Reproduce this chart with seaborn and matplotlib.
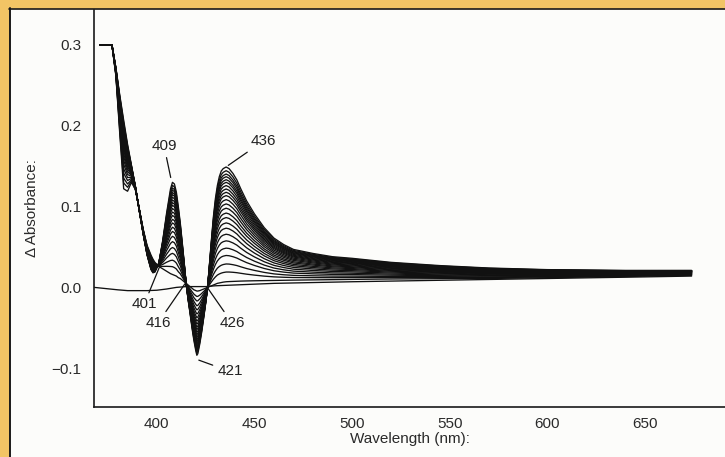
import numpy as np
import pandas as pd
import matplotlib
matplotlib.use("Agg")
import matplotlib.pyplot as plt
from matplotlib.patches import Rectangle
from matplotlib.lines import Line2D
import seaborn as sns

# ---------------- data ----------------
wavelength = [371, 374, 377, 379, 381, 383, 385, 387, 389, 391, 393, 395, 397, 398, 399,
              401, 403, 405, 407, 408, 409, 410, 411, 412, 413, 414, 415, 416, 417, 418,
              419, 420, 420.5, 421, 422, 423, 424, 425, 426, 427, 428, 429, 430, 431, 432,
              433, 434, 435.5, 437, 439, 441, 443, 446, 450, 455, 460, 465, 470, 480, 490,
              500, 520, 545, 570, 600, 640, 674]

# first spectrum after the addition (smallest change)
first_spectrum = [0.300, 0.300, 0.300, 0.262, 0.190, 0.122, 0.119, 0.130, 0.121, 0.097, 0.072,
                  0.052, 0.040, 0.035, 0.031, 0.026, 0.023, 0.020, 0.017, 0.016, 0.015, 0.014,
                  0.012, 0.011, 0.009, 0.007, 0.005, 0.003, 0.001, -0.001, -0.003, -0.004,
                  -0.0045, -0.0045, -0.004, -0.003, -0.002, -0.001, 0.000, 0.001, 0.002, 0.003,
                  0.004, 0.005, 0.0055, 0.006, 0.0065, 0.007, 0.0072, 0.0074, 0.0076, 0.0078,
                  0.008, 0.0082, 0.0084, 0.0086, 0.0088, 0.009, 0.0093, 0.0096, 0.0099, 0.0104,
                  0.0108, 0.011, 0.012, 0.0135, 0.015]

# last spectrum (largest change)
last_spectrum = [0.300, 0.300, 0.300, 0.272, 0.238, 0.207, 0.177, 0.151, 0.125, 0.095, 0.066,
                 0.040, 0.022, 0.018, 0.019, 0.030, 0.058, 0.092, 0.122, 0.130, 0.128, 0.118,
                 0.100, 0.080, 0.056, 0.031, 0.005, -0.015, -0.032, -0.050, -0.066, -0.079,
                 -0.084, -0.082, -0.070, -0.055, -0.038, -0.020, 0.000, 0.030, 0.060, 0.088,
                 0.110, 0.126, 0.137, 0.144, 0.147, 0.149, 0.147, 0.141, 0.133, 0.122, 0.107,
                 0.091, 0.074, 0.061, 0.053, 0.047, 0.042, 0.038, 0.036, 0.031, 0.027, 0.024,
                 0.022, 0.021, 0.021]

# height of every recorded spectrum at the 436 nm maximum
peak_436 = [0.007, 0.019, 0.029, 0.0395, 0.0486, 0.0576, 0.0658, 0.0733, 0.0798, 0.0864,
            0.092, 0.098, 0.1033, 0.1086, 0.1136, 0.1177, 0.1218, 0.126, 0.130, 0.1333,
            0.137, 0.1403, 0.1444, 0.149]

# baseline recorded before the addition
baseline_wl = [368, 372, 376, 380, 385, 390, 395, 400, 405, 410, 415, 420, 425, 430, 440,
               450, 460, 480, 500, 550, 600, 650, 674]
baseline_val = [0.0, -0.001, -0.002, -0.003, -0.004, -0.004, -0.004, -0.0035, -0.002, 0.0,
                0.001, 0.001, 0.001, 0.002, 0.003, 0.004, 0.005, 0.006, 0.007, 0.009, 0.011,
                0.013, 0.014]

labels = ["401", "409", "416", "421", "426", "436"]
label_xy = [(401.3, 0.025), (407.1, 0.136), (414.4, 0.0045), (421.5, -0.090), (426.4, -0.002), (436.6, 0.151)]
label_text = [(393.5, -0.021), (403.7, 0.175), (400.6, -0.044), (437.5, -0.104), (438.5, -0.044), (454.5, 0.181)]

# ---------------- build long table ----------------
A = np.array(first_spectrum)
B = np.array(last_spectrum)
i436 = wavelength.index(435.5)
rows = []
for k, h in enumerate(peak_436):
    f = (h - A[i436]) / (B[i436] - A[i436])
    vals = A + f * (B - A)
    rows.append(pd.DataFrame({"wl": wavelength, "abs": vals, "run": k + 1}))
rows.append(pd.DataFrame({"wl": baseline_wl, "abs": baseline_val, "run": 0}))
df = pd.concat(rows, ignore_index=True)

# ---------------- figure ----------------
sns.set_theme(style="white")
plt.rcParams["font.family"] = ["Liberation Sans", "DejaVu Sans"]

W, H = 725, 457
fig = plt.figure(figsize=(W / 100, H / 100), dpi=100)
fig.patch.set_facecolor("#FCFCFA")

# orange page border (left and top) with a dark rule
fig.patches.append(Rectangle((0, 0), 9 / W, 1, transform=fig.transFigure, color="#F2C465", zorder=0))
fig.patches.append(Rectangle((0, 1 - 8 / H), 1, 8 / H, transform=fig.transFigure, color="#F2C465", zorder=0))
fig.lines.append(Line2D([9.5 / W, 9.5 / W], [0, 1 - 8 / H], transform=fig.transFigure, color="#1a1a1a", lw=1.4))
fig.lines.append(Line2D([9 / W, 1], [1 - 8.5 / H, 1 - 8.5 / H], transform=fig.transFigure, color="#1a1a1a", lw=1.2))

ax = fig.add_axes([94 / W, 1 - 407 / H, 1 - 94 / W, (407 - 9) / H])
ax.set_facecolor("none")

sns.lineplot(data=df, x="wl", y="abs", units="run", estimator=None, color="#111111",
             lw=0.95, ax=ax, legend=False, sort=False)

ax.set_xlim(367.8, 691.1)
ax.set_ylim(-0.148, 0.3445)
ax.set_xticks([400, 450, 500, 550, 600, 650])
ax.set_yticks([-0.1, 0.0, 0.1, 0.2, 0.3])
ax.set_yticklabels(["\u22120.1", "0.0", "0.1", "0.2", "0.3"])

for s in ["top", "right"]:
    ax.spines[s].set_visible(False)
for s in ["left", "bottom"]:
    ax.spines[s].set_color("#1a1a1a")
    ax.spines[s].set_linewidth(1.2)

ax.tick_params(axis="both", which="major", direction="out", length=5, width=1.0,
               color="#1a1a1a", labelsize=11, labelcolor="#2a2a2a")
ax.tick_params(axis="x", pad=2)
ax.tick_params(axis="y", pad=4)
ax.set_xlabel("Wavelength (nm):", fontsize=11, color="#2a2a2a", labelpad=1)
ax.set_ylabel("\u0394 Absorbance:", fontsize=11, color="#2a2a2a", labelpad=9)

for lab, xy, txt in zip(labels, label_xy, label_text):
    ax.annotate(lab, xy=xy, xytext=txt, textcoords="data", ha="center", va="center",
                fontsize=11, color="#222222",
                arrowprops=dict(arrowstyle="-", color="#111111", lw=0.9, shrinkA=1, shrinkB=0))

fig.savefig("out.png", dpi=100, facecolor=fig.get_facecolor())
